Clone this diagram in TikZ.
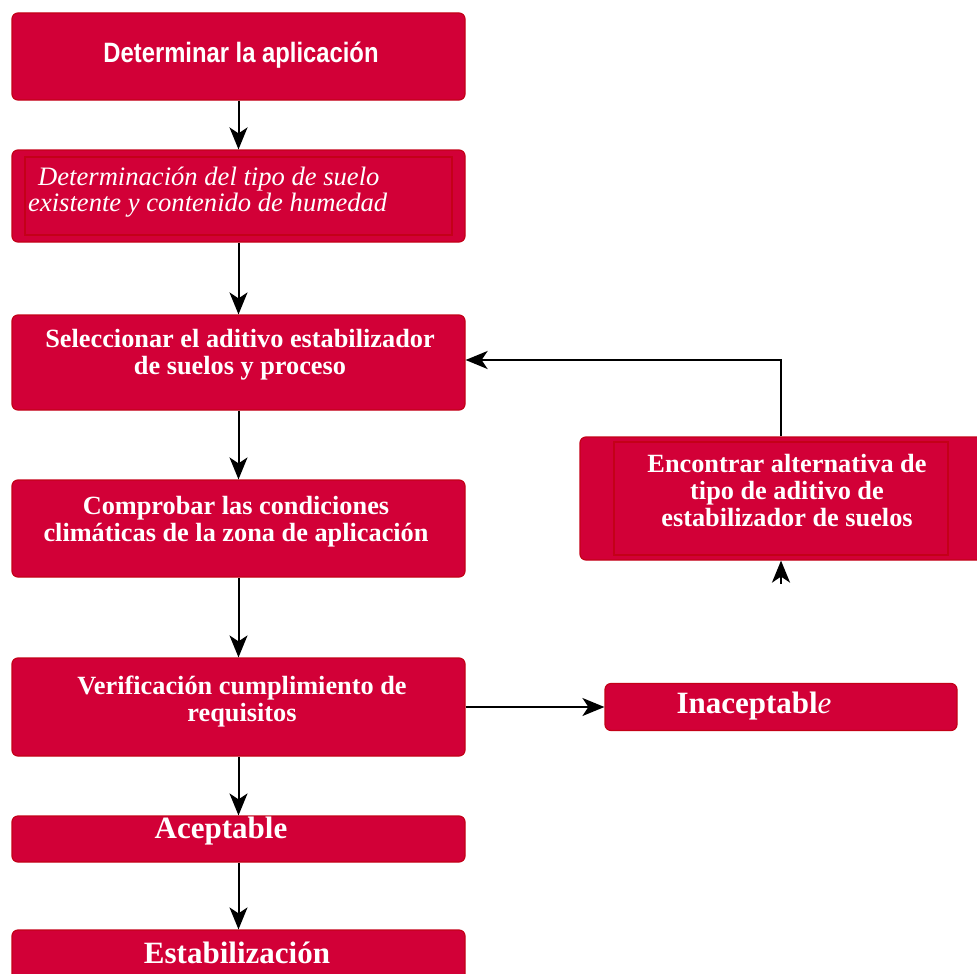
\documentclass[tikz,border=0pt]{standalone}
\usepackage{fontspec}
\setmainfont{Liberation Serif}
\newfontfamily\narrowsans[FakeStretch=0.85]{Liberation Sans}
\usetikzlibrary{arrows.meta}

\definecolor{boxred}{RGB}{210,0,55}
\definecolor{edgered}{RGB}{196,0,24}

\tikzset{
  flowbox/.style={draw=edgered, fill=boxred, line width=1.2pt, rounded corners=6pt,
    minimum width=453pt, inner sep=0pt},
  boxtext/.style={text=white, font=\bfseries\fontsize{26.3}{27}\selectfont, align=center, inner sep=0pt},
  bigtext/.style={text=white, font=\bfseries\fontsize{31}{33}\selectfont, inner sep=0pt},
  innerline/.style={draw=edgered, line width=1.6pt},
  arr/.style={line width=2pt, -{Stealth[length=22pt,width=18pt,inset=6pt]}}
}

\begin{document}
\begin{tikzpicture}[x=1pt,y=-1pt]

        \useasboundingbox (0,0) rectangle (977,974);

        % left column
        \node[flowbox, minimum height=87pt] (app) at (238.5,56.5) {};
        \node[flowbox, minimum height=92pt] (suelo) at (238.5,196) {};
        \node[flowbox, minimum height=95pt] (aditivo) at (238.5,362.5) {};
        \node[flowbox, minimum height=97pt] (clima) at (238.5,528.5) {};
        \node[flowbox, minimum height=98pt] (verif) at (238.5,707) {};
        \node[flowbox, minimum height=46pt] (acept) at (238.5,839) {};
        \node[flowbox, minimum height=55pt] (estab) at (238.5,957.5) {};

        % right column
        \node[flowbox, minimum width=410pt, minimum height=123pt] (alt) at (785,498.5) {};
        \node[flowbox, minimum width=352pt, minimum height=47pt] (inacep) at (781,707) {};

        \draw[innerline] (25,157) rectangle (452,235);
        \draw[innerline] (614,442) rectangle (948,555);

        \node[text=white, inner sep=0pt, font=\narrowsans\bfseries\fontsize{28}{30}\selectfont] (appT) at (241,55) {Determinar la aplicación};
        \node[text=white, inner sep=0pt, anchor=west, align=left, font=\itshape\fontsize{26.6}{26}\selectfont] (sueloT) at (28,192)
          {\hspace{10pt}Determinación del tipo de suelo\\existente y contenido de humedad};
        \node[boxtext] (aditivoT) at (240,355) {Seleccionar el aditivo estabilizador\\de suelos y proceso};
        \node[boxtext] (climaT) at (236,522) {Comprobar las condiciones\\climáticas de la zona de aplicación};
        \node[boxtext] (verifT) at (242,702) {Verificación cumplimiento de\\requisitos};
        \node[bigtext] (aceptT) at (221,831) {Aceptable};
        \node[bigtext] (estabT) at (237,953) {Estabilización};
        \node[boxtext] (altT) at (787,491) {Encontrar alternativa de\\tipo de aditivo de\\estabilizador de suelos};
        \node[bigtext] (inacepT) at (754,706) {Inaceptabl{\mdseries\itshape e}};

        % connectors
        \draw[arr] (app) -- (suelo);
        \draw[arr] (suelo) -- (aditivo);
        \draw[arr] (aditivo) -- (clima);
        \draw[arr] (clima) -- (verif);
        \draw[arr] (verif) -- (acept);
        \draw[arr] (acept) -- (estab);
        \draw[arr] (verif.east) -- (inacep.west);

        \coordinate (turn) at (781,360);
        \coordinate (stub) at (781,584);
        \draw[arr] (alt.north -| turn) -- (turn) -- (turn -| aditivo.east);
        \draw[arr] (stub) -- (stub |- alt.south);

\end{tikzpicture}
\end{document}
